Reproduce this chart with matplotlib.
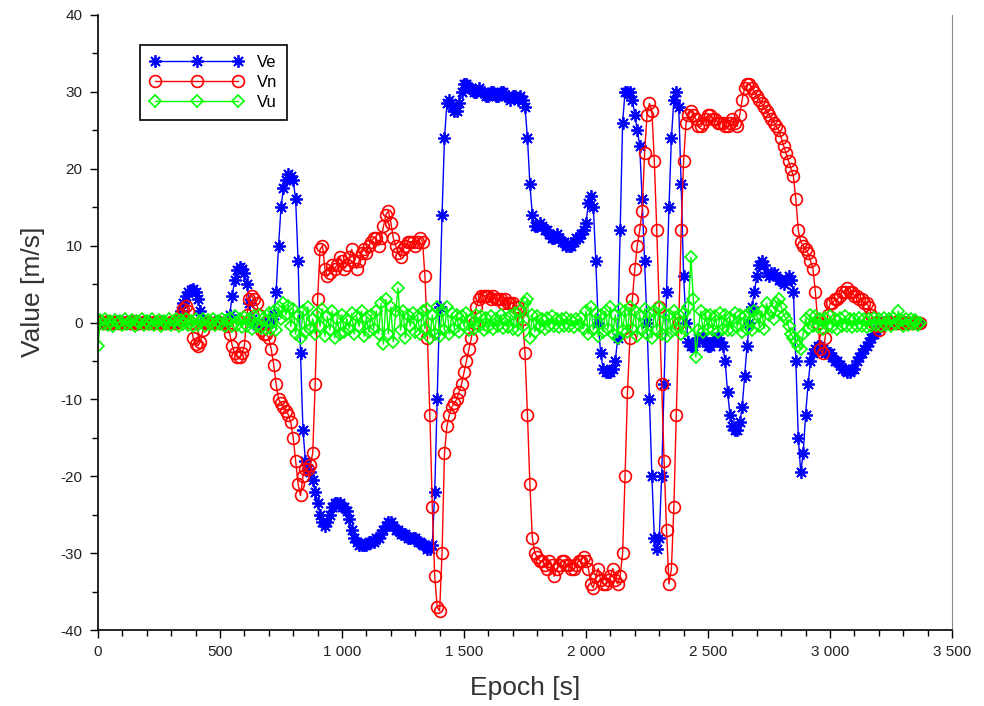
import numpy as np
import matplotlib
matplotlib.use('Agg')
import matplotlib.pyplot as plt
from matplotlib.ticker import MultipleLocator

plt.rcParams['font.family'] = ['Liberation Sans Narrow', 'Liberation Sans', 'DejaVu Sans']

# epochs: one sample every 10 s, 0 .. 3370 s
epoch = np.arange(0, 3380, 10)

# east velocity [m/s], 10 values per 100 s
ve = [
    0.0, 0.2, -0.1, 0.1, 0.0, -0.2, 0.1, 0.0, 0.2, -0.1,
    0.1, 0.0, -0.1, 0.2, 0.0, 0.1, -0.2, 0.0, 0.1, 0.0,
    -0.1, 0.2, 0.0, 0.1, -0.1, 0.0, 0.2, 0.1, 0.0, -0.1,
    0.0, 0.2, 0.1, 0.3, 1.5, 2.5, 3.5, 4.0, 4.2, 4.3,
    4.0, 3.0, 1.5, 0.3, 0.0, 0.1, -0.1, 0.0, 0.2, 0.0,
    0.1, -0.1, 0.0, 0.2, 1.0, 3.5, 5.5, 6.8, 7.2, 7.0,
    6.5, 5.0, 2.5, 0.5, 0.0, -0.3, -0.5, -0.3, 0.0, -0.2,
    0.0, 0.3, 1.0, 4.0, 10.0, 15.0, 17.5, 18.5, 19.3, 19.0,
    18.5, 16.0, 8.0, -4.0, -14.0, -18.0, -19.0, -19.5, -20.5, -22.0,
    -23.5, -25.0, -26.0, -26.5, -26.0, -25.0, -24.0, -23.5, -23.5, -23.5,
    -24.0, -24.0, -24.5, -25.5, -27.0, -28.0, -28.5, -29.0, -29.0, -29.0,
    -29.0, -28.5, -28.5, -28.5, -28.0, -28.0, -27.5, -27.0, -26.5, -26.0,
    -26.0, -26.5, -27.0, -27.0, -27.5, -27.5, -27.5, -28.0, -28.0, -28.0,
    -28.0, -28.5, -28.5, -29.0, -29.0, -29.5, -29.5, -29.0, -22.0, -10.0,
    2.0, 14.0, 24.0, 28.5, 29.0, 28.0, 27.5, 27.5, 28.5, 30.0,
    31.0, 31.0, 30.5, 30.5, 30.0, 30.0, 30.5, 30.0, 30.0, 29.5,
    29.5, 30.0, 30.0, 29.5, 29.5, 30.0, 30.0, 29.5, 29.5, 29.0,
    29.5, 29.5, 29.0, 29.5, 29.0, 28.0, 24.0, 18.0, 14.0, 12.5,
    12.5, 13.0, 12.5, 12.0, 12.0, 11.5, 11.0, 11.0, 11.5, 11.0,
    10.5, 10.5, 10.0, 10.0, 10.0, 10.5, 11.0, 11.0, 11.5, 12.0,
    13.0, 15.5, 16.5, 15.0, 8.0, 0.0, -4.0, -6.0, -6.5, -6.5,
    -6.5, -6.0, -5.0, -2.0, 12.0, 26.0, 30.0, 30.0, 30.0, 29.0,
    27.0, 25.0, 23.0, 16.0, 8.0, 0.0, -10.0, -20.0, -28.0, -29.5,
    -28.0, -20.0, -8.0, 4.0, 15.0, 24.0, 29.0, 30.0, 28.0, 18.0,
    6.0, 0.0, -2.5, -3.0, -3.0, -2.5, -2.0, -2.0, -2.0, -2.5,
    -3.0, -3.0, -2.5, -2.0, -2.0, -2.5, -3.0, -5.0, -9.0, -12.0,
    -13.5, -14.0, -14.0, -13.0, -11.0, -7.0, -3.0, 0.0, 2.0, 4.0,
    6.0, 7.5, 8.0, 7.5, 6.5, 6.0, 6.5, 6.5, 6.0, 5.5,
    5.5, 5.0, 5.5, 6.0, 5.5, 4.0, -5.0, -15.0, -19.5, -17.0,
    -12.0, -8.0, -5.0, -4.0, -3.5, -3.0, -3.0, -3.5, -4.0, -4.0,
    -4.0, -4.5, -5.0, -5.0, -5.5, -6.0, -6.0, -6.5, -6.5, -6.0,
    -6.0, -5.0, -4.5, -4.0, -3.5, -3.0, -2.5, -2.0, -1.5, -1.0,
    -0.5, 0.0, 0.1, -0.1, 0.0, 0.2, 0.0, -0.1, 0.1, 0.0,
    0.0, 0.1, -0.1, 0.0, 0.1, 0.0, -0.1, 0.0,
]

# north velocity [m/s]
vn = [
    0.0, 0.1, -0.1, 0.0, 0.2, 0.0, -0.1, 0.1, 0.0, 0.0,
    -0.1, 0.0, 0.1, 0.0, -0.1, 0.2, 0.0, 0.0, -0.1, 0.1,
    0.0, -0.1, 0.0, 0.1, 0.0, 0.0, 0.1, -0.1, 0.0, 0.0,
    0.1, 0.0, 0.0, 0.3, 1.0, 1.8, 2.2, 1.5, 0.0, -2.0,
    -2.8, -3.0, -2.5, -1.0, 0.0, 0.1, 0.0, -0.1, 0.0, 0.1,
    0.0, -0.1, 0.0, -0.5, -1.5, -3.0, -4.0, -4.5, -4.5, -4.0,
    -3.0, 1.0, 3.0, 3.5, 3.0, 2.5, 1.0, -1.0, -1.5, -1.5,
    -2.0, -3.5, -5.5, -8.0, -10.0, -10.5, -11.0, -11.5, -12.0, -13.0,
    -15.0, -18.0, -21.0, -22.5, -20.0, -19.0, -19.0, -18.5, -17.0, -8.0,
    3.0, 9.5, 10.0, 7.0, 6.0, 6.5, 7.5, 7.0, 7.5, 8.5,
    8.0, 7.0, 7.5, 8.5, 9.5, 8.0, 7.0, 8.0, 9.0, 9.5,
    9.0, 10.0, 10.5, 11.0, 11.0, 10.0, 11.0, 12.5, 14.0, 14.5,
    13.0, 11.0, 10.0, 9.0, 8.5, 9.5, 10.0, 10.5, 10.5, 10.5,
    10.0, 10.5, 11.0, 10.5, 6.0, -2.0, -12.0, -24.0, -33.0, -37.0,
    -37.5, -30.0, -17.0, -13.5, -12.0, -11.0, -10.5, -10.0, -9.0, -8.0,
    -6.5, -5.0, -3.5, -2.0, 0.0, 2.0, 3.0, 3.5, 3.5, 3.5,
    3.5, 3.0, 3.5, 3.0, 3.0, 3.0, 2.5, 3.0, 2.5, 2.5,
    2.5, 2.0, 2.0, 1.5, 0.5, -4.0, -12.0, -21.0, -28.0, -30.0,
    -30.5, -31.0, -31.0, -31.5, -32.0, -31.0, -31.5, -33.0, -32.0, -31.5,
    -31.0, -31.0, -31.5, -31.5, -32.0, -32.0, -31.5, -31.0, -31.0, -30.5,
    -31.0, -32.0, -34.0, -34.5, -33.0, -32.0, -33.5, -34.0, -34.0, -33.5,
    -33.0, -32.0, -33.5, -34.0, -33.0, -30.0, -20.0, -9.0, -2.0, 3.0,
    7.0, 10.0, 12.0, 14.5, 22.0, 27.0, 28.5, 27.5, 21.0, 12.0,
    2.0, -8.0, -18.0, -27.0, -34.0, -32.0, -24.0, -12.0, 0.0, 12.0,
    21.0, 26.0, 27.0, 27.5, 27.0, 26.5, 25.5, 25.5, 26.0, 26.5,
    27.0, 27.0, 26.5, 26.5, 26.0, 26.0, 26.0, 25.5, 25.5, 26.0,
    26.5, 26.0, 25.5, 27.0, 29.0, 30.5, 31.0, 31.0, 30.5, 30.0,
    29.5, 29.0, 28.5, 28.0, 27.5, 27.0, 26.5, 26.0, 25.5, 25.0,
    24.0, 23.0, 22.0, 21.0, 20.0, 19.0, 16.0, 12.0, 10.5, 10.0,
    9.5, 9.0, 8.0, 7.0, 4.0, 0.0, -3.5, -4.0, -2.0, 1.0,
    2.5, 2.5, 3.0, 3.0, 3.5, 4.0, 4.0, 4.5, 4.0, 4.0,
    3.5, 3.5, 3.0, 3.0, 2.5, 2.5, 2.0, 1.0, 0.0, -0.5,
    -1.0, -0.5, 0.0, 0.1, 0.0, -0.1, 0.0, 0.1, 0.0, 0.0,
    0.1, 0.0, -0.1, 0.0, 0.0, 0.1, 0.0, 0.0,
]

# up velocity [m/s]
vu = [
    -3.0, 0.3, -0.2, 0.4, -0.3, 0.2, -0.4, 0.3, -0.1, 0.2,
    -0.3, 0.4, -0.2, 0.1, 0.3, -0.4, 0.2, -0.1, 0.4, -0.3,
    0.2, -0.2, 0.5, -0.3, 0.1, 0.3, -0.4, 0.2, -0.2, 0.4,
    -0.3, 0.2, 0.4, -0.4, 0.3, -0.2, 0.5, -0.3, 0.2, -0.5,
    0.4, -0.3, 0.2, 0.5, -0.4, 0.3, -0.2, 0.4, -0.3, 0.2,
    -0.2, 0.5, -0.4, 0.3, 0.6, -0.5, 0.8, -0.3, 0.4, -0.6,
    0.7, -0.4, 0.5, -0.8, 0.9, -0.5, 1.0, -0.7, 0.6, -0.9,
    1.2, -0.8, 1.5, -1.0, 2.0, 0.5, 2.5, 1.0, 2.2, -0.5,
    1.8, -1.5, 1.0, -2.0, 1.5, -1.2, 2.0, -0.8, 0.5, -1.5,
    1.2, -0.5, 1.8, -1.8, 0.8, -1.0, 1.5, -2.0, 0.5, -1.5,
    1.0, -1.2, 0.5, -0.8, 1.2, -1.5, 0.8, -0.5, 1.5, -1.8,
    0.6, -1.2, 1.0, -0.8, 1.5, -1.5, 2.5, -2.8, 3.0, -1.5,
    2.0, -2.5, 1.5, 4.5, -1.0, 1.5, -2.0, 1.0, -0.5, 1.2,
    -1.2, 0.8, -1.5, 1.5, -0.8, 1.8, -2.0, 1.0, -1.5, 2.0,
    -1.8, 1.5, -1.0, 2.0, -1.5, 1.2, -0.8, 1.0, -1.2, 0.8,
    -0.5, 1.2, -1.0, 0.5, -0.8, 1.0, -0.5, 0.8, -1.0, 0.6,
    -0.6, 0.8, -0.8, 0.5, -0.5, 1.0, -0.7, 0.4, -0.6, 0.8,
    -0.8, 1.2, -1.0, 1.5, -0.5, 2.5, 3.0, -2.0, 1.0, -1.2,
    0.8, -0.6, 0.5, -0.8, 0.6, -0.4, 0.8, -0.5, 0.4, -0.6,
    0.5, -0.4, 0.6, -0.5, 0.3, -0.6, 0.5, -0.3, 0.6, -0.8,
    1.5, -1.5, 2.0, -1.0, 1.2, -1.8, 1.0, -1.2, 1.5, -0.8,
    2.0, -1.5, 1.0, -2.0, 1.8, -1.0, 1.5, -1.2, 2.0, -0.8,
    1.5, -1.8, 1.0, -1.0, 1.8, -1.5, 1.2, -2.0, 1.5, -1.0,
    2.0, -1.5, 1.2, -1.8, 1.0, -1.2, 1.5, -0.8, 1.0, -1.5,
    1.2, -1.0, 2.0, 8.5, 3.0, -4.5, -1.0, 1.5, -1.2, 1.0,
    -0.8, 1.0, -1.0, 0.8, -1.2, 1.2, -0.8, 1.0, -1.0, 0.6,
    -1.0, 1.2, -0.6, 1.0, -1.2, 0.8, -0.8, 1.2, -1.0, 1.5,
    1.0, -0.5, 1.5, -0.8, 2.5, 1.0, 1.5, 0.5, 2.5, 3.0,
    2.0, 1.0, 0.5, -0.5, -1.5, -2.0, -2.5, -3.0, -3.5, -1.5,
    0.5, -0.8, 1.0, -0.5, 0.8, -0.6, 0.5, -0.8, 0.6, -0.5,
    0.8, -0.6, 0.5, -0.8, 0.6, -0.5, 0.8, -0.4, 0.5, -0.6,
    0.5, -0.5, 0.6, -0.4, 0.5, -0.6, 0.4, -0.5, 0.6, -0.3,
    0.4, -0.5, 0.6, -0.3, 0.5, -0.4, 0.6, -0.2, 1.5, 0.3,
    -0.4, 0.5, -0.3, 0.4, -0.2, 0.3, -0.3, 0.0,
]

xticks = [0, 500, 1000, 1500, 2000, 2500, 3000, 3500]
xtick_labels = ['0', '500', '1 000', '1 500', '2 000', '2 500', '3 000', '3 500']
yticks = [-40, -30, -20, -10, 0, 10, 20, 30, 40]
ytick_labels = ['-40', '-30', '-20', '-10', '0', '10', '20', '30', '40']

fig = plt.figure(figsize=(9.84, 7.06), dpi=100)
ax = fig.add_axes([0.0996, 0.1076, 0.8679, 0.8712])

ax.plot(epoch, ve, color='#0000ff', lw=1, marker=(8, 2, 0), ms=9,
        mew=1.3, label='Ve')
ax.plot(epoch, vn, color='#ff0000', lw=1, marker='o', ms=8.5,
        mfc='none', mew=1.2, label='Vn')
ax.plot(epoch, vu, color='#00ff00', lw=1, marker='D', ms=6.5,
        mfc='none', mew=1.2, label='Vu')

ax.set_xlim(0, 3500)
ax.set_ylim(-40, 40)
ax.set_xticks(xticks)
ax.set_xticklabels(xtick_labels)
ax.set_yticks(yticks)
ax.set_yticklabels(ytick_labels)
ax.xaxis.set_minor_locator(MultipleLocator(100))
ax.yaxis.set_minor_locator(MultipleLocator(5))
ax.tick_params(which='major', direction='out', length=6, width=1, pad=5,
               labelsize=11, colors='black', labelcolor='#222222')
ax.tick_params(which='minor', direction='out', length=4, width=1)

ax.spines['top'].set_visible(False)
ax.spines['right'].set_color('#888888')
ax.spines['left'].set_linewidth(1.2)
ax.spines['bottom'].set_linewidth(1.2)

ax.set_xlabel('Epoch [s]', fontsize=19, color='#333333', labelpad=12)
ax.set_ylabel('Value [m/s]', fontsize=19, color='#333333')
ax.yaxis.set_label_coords(-0.062, 0.55)

leg = ax.legend(loc='upper left', bbox_to_anchor=(0.049, 0.951),
                numpoints=3, handlelength=5.6, handletextpad=0.8,
                labelspacing=0.3, borderaxespad=0, borderpad=0.6,
                fancybox=False, framealpha=1, fontsize=12)
leg.get_frame().set_edgecolor('black')
leg.get_frame().set_linewidth(1.2)

fig.savefig('out.png', dpi=100)
